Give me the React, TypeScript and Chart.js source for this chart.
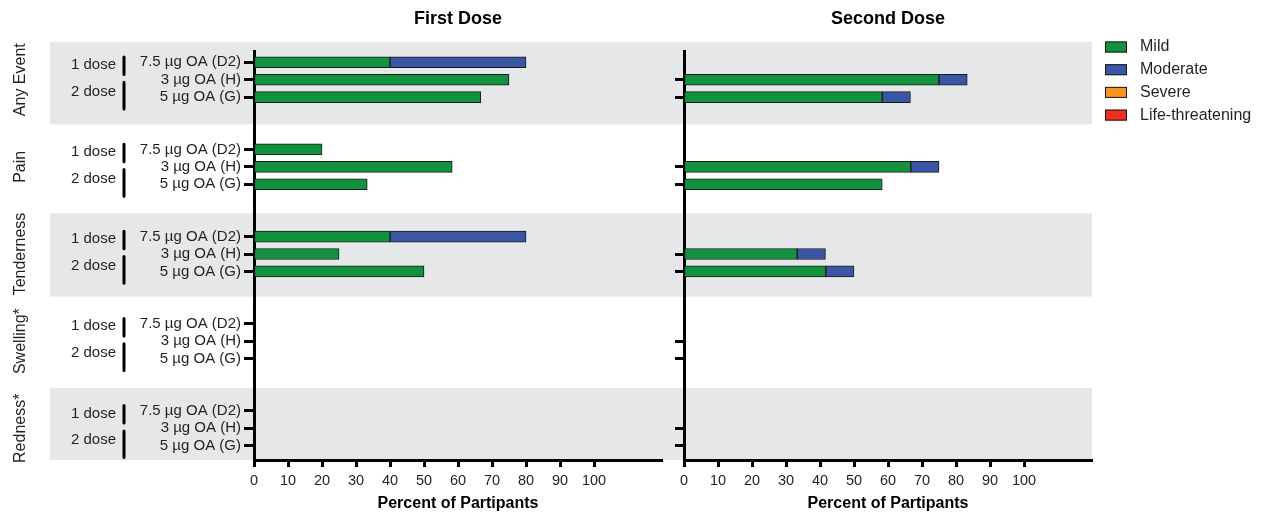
import React, { useEffect, useRef } from 'react';
import { Chart, registerables } from 'chart.js';

Chart.register(...registerables);

const FONT = "'Liberation Sans', Arial, Helvetica, sans-serif";
const INK = '#231f20';

// ---- labels ----
const events = ['Any Event', 'Pain', 'Tenderness', 'Swelling*', 'Redness*'];
const vaccines = ['7.5 µg OA (D2)', '3 µg OA (H)', '5 µg OA (G)'];
const doseLabels = ['1 dose', '2 dose'];
const panelTitles = ['First Dose', 'Second Dose'];
const severities = ['Mild', 'Moderate', 'Severe', 'Life-threatening'];
const severityColors = ['#12923f', '#3b56a5', '#f7941d', '#ee3124'];
const xTickValues = [0, 10, 20, 30, 40, 50, 60, 70, 80, 90, 100];
const xAxisTitle = 'Percent of Partipants';

// ---- values (rows: event-major; within each event D2, H, G) ----
const firstMild = [40, 75, 66.7, 20, 58.3, 33.3, 40, 25, 50, 0, 0, 0, 0, 0, 0];
const firstModerate = [40, 0, 0, 0, 0, 0, 40, 0, 0, 0, 0, 0, 0, 0, 0];
const firstSevere = [0, 0, 0, 0, 0, 0, 0, 0, 0, 0, 0, 0, 0, 0, 0];
const firstLife = [0, 0, 0, 0, 0, 0, 0, 0, 0, 0, 0, 0, 0, 0, 0];

const secondMild = [null, 75, 58.3, null, 66.7, 58.3, null, 33.3, 41.7, null, 0, 0, null, 0, 0];
const secondModerate = [null, 8.3, 8.3, null, 8.3, 0, null, 8.3, 8.3, null, 0, 0, null, 0, 0];
const secondSevere = [null, 0, 0, null, 0, 0, null, 0, 0, null, 0, 0, null, 0, 0];
const secondLife = [null, 0, 0, null, 0, 0, null, 0, 0, null, 0, 0, null, 0, 0];

// ---- layout helpers ----
const SLOTS_PER_EVENT = 5;
const slotOf = (r: number) => Math.floor(r / 3) * SLOTS_PER_EVENT + (r % 3) + 1;
const Y_MIN = 0.352;
const Y_MAX = 23.82;
const shadedBands = [
  [-0.18, 4.56],
  [9.66, 14.45],
  [19.7, 23.82],
];

const labelForSlot = (v: number) => {
  for (let r = 0; r < events.length * 3; r++) {
    if (Math.abs(slotOf(r) - v) < 1e-6) return vaccines[r % 3];
  }
  return '';
};

const makeBandsPlugin = (isLeft: boolean) => ({
  id: 'bands',
  beforeDraw(chart: any) {
    const { ctx, chartArea } = chart;
    const y = chart.scales.y;
    const x0 = isLeft ? 50 : 0;
    const x1 = isLeft ? chart.width : chartArea.right;
    ctx.save();
    ctx.fillStyle = '#e6e7e8';
    shadedBands.forEach(([a, b]) => {
      const ya = y.getPixelForValue(a);
      const yb = y.getPixelForValue(b);
      ctx.fillRect(x0, ya, x1 - x0, yb - ya);
    });
    ctx.restore();
  },
});

const groupLabelsPlugin = {
  id: 'groupLabels',
  afterDraw(chart: any) {
    const { ctx } = chart;
    const y = chart.scales.y;
    ctx.save();
    ctx.fillStyle = INK;
    events.forEach((name, e) => {
      const base = e * SLOTS_PER_EVENT;
      ctx.save();
      ctx.translate(21, y.getPixelForValue(base + 2));
      ctx.rotate(-Math.PI / 2);
      ctx.font = `16px ${FONT}`;
      ctx.textAlign = 'center';
      ctx.textBaseline = 'middle';
      ctx.fillText(name, 0, 0);
      ctx.restore();

      ctx.font = `15px ${FONT}`;
      ctx.textAlign = 'right';
      ctx.textBaseline = 'middle';
      ctx.fillText(doseLabels[0], 116, y.getPixelForValue(base + 1.15));
      ctx.fillText(doseLabels[1], 116, y.getPixelForValue(base + 2.68));

      ctx.strokeStyle = '#000';
      ctx.lineWidth = 3;
      ctx.lineCap = 'round';
      ctx.beginPath();
      ctx.moveTo(124, y.getPixelForValue(base + 1 - 0.3));
      ctx.lineTo(124, y.getPixelForValue(base + 1 + 0.7));
      ctx.moveTo(124, y.getPixelForValue(base + 2 + 0.15));
      ctx.lineTo(124, y.getPixelForValue(base + 3 + 0.68));
      ctx.stroke();
    });
    ctx.restore();
  },
};

const legendPlugin = {
  id: 'severityLegend',
  afterDraw(chart: any) {
    const { ctx, chartArea } = chart;
    const x0 = chartArea.right + 13;
    ctx.save();
    chart.data.datasets.forEach((ds: any, k: number) => {
      const cy = 47 + k * 22.7;
      ctx.fillStyle = ds.backgroundColor;
      ctx.fillRect(x0, cy - 5.5, 22, 11);
      ctx.strokeStyle = '#1a1a1a';
      ctx.lineWidth = 1;
      ctx.strokeRect(x0 + 0.5, cy - 5, 21, 10);
      ctx.fillStyle = INK;
      ctx.font = `16px ${FONT}`;
      ctx.textAlign = 'left';
      ctx.textBaseline = 'middle';
      ctx.fillText(ds.label, x0 + 35, cy);
    });
    ctx.restore();
  },
};

function makeConfig(panel: number): any {
  const isLeft = panel === 0;
  const values: (number | null)[][] = isLeft
    ? [firstMild, firstModerate, firstSevere, firstLife]
    : [secondMild, secondModerate, secondSevere, secondLife];
  const rowsShown = values[0].map((v, r) => (v === null ? -1 : r)).filter((r) => r >= 0);

  const datasets = severities.map((label, k) => ({
    label,
    data: values[k].flatMap((v, r) => (v ? [{ x: v, y: slotOf(r) }] : [])),
    backgroundColor: severityColors[k],
    borderColor: '#1a1a1a',
    borderWidth: 1,
    borderSkipped: false,
    barThickness: 11,
  }));

  return {
    type: 'bar',
    data: { datasets },
    options: {
      indexAxis: 'y',
      animation: false,
      responsive: false,
      events: [],
      layout: { padding: { left: 0, right: isLeft ? 8 : 169, top: 0, bottom: 0 } },
      plugins: {
        legend: { display: false },
        tooltip: { enabled: false },
        title: {
          display: true,
          text: panelTitles[panel],
          fullSize: false,
          color: '#000',
          font: { size: 18, weight: 'bold', family: FONT },
          padding: { top: 8.5, bottom: 20.9 },
        },
      },
      scales: {
        x: {
          type: 'linear',
          min: 0,
          max: 120,
          stacked: true,
          offset: false,
          afterBuildTicks: (s: any) => {
            s.ticks = xTickValues.map((v) => ({ value: v }));
          },
          afterFit: (s: any) => {
            s.height = 54;
          },
          ticks: { autoSkip: false, maxRotation: 0, padding: 5, color: INK, font: { size: 14.5, family: FONT } },
          grid: { offset: false, drawOnChartArea: false, drawTicks: true, tickLength: 7, tickWidth: 3, tickColor: '#000' },
          border: { display: true, width: 3, color: '#000' },
          title: {
            display: true,
            text: xAxisTitle,
            color: '#000',
            font: { size: 16, weight: 'bold', family: FONT },
            padding: { top: 0, bottom: 1 },
          },
        },
        y: {
          type: 'linear',
          reverse: true,
          min: Y_MIN,
          max: Y_MAX,
          bounds: 'data',
          stacked: true,
          offset: false,
          afterBuildTicks: (s: any) => {
            s.ticks = rowsShown.map((r) => ({ value: slotOf(r) }));
          },
          afterFit: (s: any) => {
            s.width = isLeft ? 254 : 14;
          },
          ticks: {
            display: isLeft,
            autoSkip: false,
            padding: 3,
            color: INK,
            font: { size: 15, family: FONT },
            callback: (v: number) => labelForSlot(v),
          },
          grid: {
            offset: false,
            drawOnChartArea: false,
            drawTicks: true,
            tickLength: isLeft ? 10 : 9,
            tickWidth: 3,
            tickColor: '#000',
          },
          border: { display: true, width: 3, color: '#000' },
        },
      },
    },
    plugins: [makeBandsPlugin(isLeft), isLeft ? groupLabelsPlugin : legendPlugin],
  };
}

export default function App() {
  const leftRef = useRef<HTMLCanvasElement>(null);
  const rightRef = useRef<HTMLCanvasElement>(null);

  useEffect(() => {
    Chart.defaults.font.family = FONT;
    const a = new Chart(leftRef.current as HTMLCanvasElement, makeConfig(0));
    const b = new Chart(rightRef.current as HTMLCanvasElement, makeConfig(1));
    return () => {
      a.destroy();
      b.destroy();
    };
  }, []);

  return (
    <div style={{ position: 'fixed', left: 0, top: 0, width: 1261, height: 514, background: '#fff' }}>
      <canvas
        ref={leftRef}
        width={670}
        height={514}
        style={{ position: 'absolute', left: 0, top: 0, width: 670, height: 514 }}
      />
      <canvas
        ref={rightRef}
        width={591}
        height={514}
        style={{ position: 'absolute', left: 670, top: 0, width: 591, height: 514 }}
      />
    </div>
  );
}
